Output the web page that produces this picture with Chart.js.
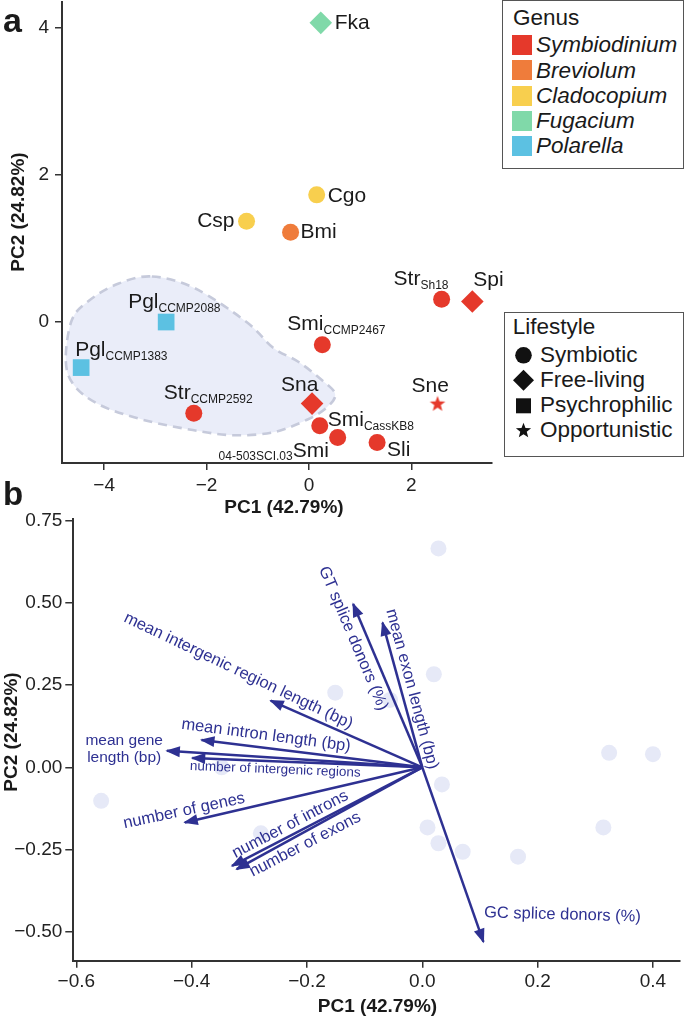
<!DOCTYPE html>
<html><head><meta charset="utf-8">
<script src="https://cdn.jsdelivr.net/npm/chart.js@4.4.1/dist/chart.umd.min.js"></script>
<style>
body{margin:0;background:#fff;width:685px;height:1017px;position:relative;overflow:hidden;font-family:"Liberation Sans",Arial,sans-serif;color:#1a1a1a}
canvas{position:absolute;left:0}
#c1{top:0}
#c2{top:480px}
.t{position:absolute;white-space:nowrap;line-height:1}
.ttl{position:absolute;white-space:nowrap;line-height:1;font-weight:bold;font-size:19px;transform:translate(-50%,-50%)}
.box{position:absolute;border:1.5px solid #555;box-sizing:border-box;background:#fff}
.lg{font-size:22.5px}
.it{font-style:italic}
.sw{position:absolute;width:20px;height:20px}
svg{position:absolute;left:0;top:0}
</style></head>
<body>
<canvas id="c1" width="685" height="520" style="width:685px;height:520px"></canvas>
<canvas id="c2" width="685" height="537" style="width:685px;height:537px"></canvas>

<div class="t" style="left:3px;top:2.7px;font-size:34px;font-weight:bold">a</div>
<div class="t" style="left:3px;top:477px;font-size:33px;font-weight:bold">b</div>

<div class="ttl" style="left:284px;top:506px">PC1 (42.79%)</div>
<div class="ttl" style="left:16.5px;top:212px;transform:translate(-50%,-50%) rotate(-90deg)">PC2 (24.82%)</div>
<div class="ttl" style="left:377.5px;top:1005px">PC1 (42.79%)</div>
<div class="ttl" style="left:9.5px;top:731.5px;transform:translate(-50%,-50%) rotate(-90deg)">PC2 (24.82%)</div>

<div class="box" style="left:502px;top:0px;width:182px;height:169px"></div>
<div class="box" style="left:504px;top:312px;width:180px;height:145px"></div>
<div id="legends"></div>
<svg id="lgsvg" width="685" height="1017"></svg>

<script>
// ================= DATA: panel a (PCA scores) =================
const samples   = ['Fka','Cgo','Csp','Bmi','Str_Sh18','Spi','Pgl_CCMP2088','Smi_CCMP2467','Pgl_CCMP1383','Str_CCMP2592','Sna','Sne','Smi_CassKB8','Smi_04-503SCI.03','Sli'];
const pc1       = [0.23, 0.15, -1.22, -0.36, 2.59, 3.19, -2.79, 0.26, -4.45, -2.25, 0.06, 2.51, 0.21, 0.56, 1.33];
const pc2       = [4.07, 1.73, 1.37, 1.22, 0.31, 0.28, 0.00, -0.31, -0.62, -1.24, -1.11, -1.11, -1.41, -1.57, -1.64];
const genus     = ['Fugacium','Cladocopium','Cladocopium','Breviolum','Symbiodinium','Symbiodinium','Polarella','Symbiodinium','Polarella','Symbiodinium','Symbiodinium','Symbiodinium','Symbiodinium','Symbiodinium','Symbiodinium'];
const lifestyle = ['Free-living','Symbiotic','Symbiotic','Symbiotic','Symbiotic','Free-living','Psychrophilic','Symbiotic','Psychrophilic','Symbiotic','Free-living','Opportunistic','Symbiotic','Symbiotic','Symbiotic'];
const labelMain = ['Fka','Cgo','Csp','Bmi','Str','Spi','Pgl','Smi','Pgl','Str','Sna','Sne','Smi','Smi','Sli'];
const labelSub  = ['','','','','Sh18','','CCMP2088','CCMP2467','CCMP1383','CCMP2592','','','CassKB8','04-503SCI.03',''];
const genusNames     = ['Symbiodinium','Breviolum','Cladocopium','Fugacium','Polarella'];
const lifestyleNames = ['Symbiotic','Free-living','Psychrophilic','Opportunistic'];
// outline of the shaded region
const hullPC1 = [-3.07,-2.23,-1.22,-0.70,-0.21,0.25,0.51,0.35,-0.04,-0.70,-1.48,-2.27,-3.24,-4.08,-4.59,-4.75,-4.63,-4.28,-3.73];
const hullPC2 = [0.62,0.46,0.00,-0.35,-0.54,-0.79,-0.98,-1.16,-1.33,-1.50,-1.54,-1.47,-1.33,-1.13,-0.86,-0.52,0.03,0.30,0.52];
const ticksAX = [-4,-2,0,2];
const ticksAY = [0,2,4];

// ================= DATA: panel b (biplot) =================
const scorePC1 = [0.028,0.020,-0.151,-0.056,0.324,0.400,0.034,0.009,0.028,0.070,0.166,0.314,-0.557,-0.280,-0.348];
const scorePC2 = [0.666,0.283,0.227,0.205,0.044,0.040,-0.052,-0.183,-0.231,-0.257,-0.272,-0.183,-0.102,-0.201,0.000];
const loadingNames = ['GT splice donors (%)','mean exon length (bp)','mean intergenic region length (bp)','mean intron length (bp)','mean gene length (bp)','number of intergenic regions','number of genes','number of introns','number of exons','GC splice donors (%)'];
const loadPC1 = [-0.120,-0.069,-0.263,-0.383,-0.443,-0.399,-0.412,-0.330,-0.322,0.106];
const loadPC2 = [0.497,0.440,0.203,0.083,0.050,0.028,-0.168,-0.300,-0.310,-0.531];
const ticksBX = [-0.6,-0.4,-0.2,0,0.2,0.4];
const ticksBY = [-0.5,-0.25,0,0.25,0.5,0.75];

// ================= STYLES =================
const FONT = '"Liberation Sans", Arial, sans-serif';
Chart.defaults.font.family = FONT;
Chart.defaults.color = '#222';
const genusColors = {Symbiodinium:'#e5392b', Breviolum:'#ef7c3b', Cladocopium:'#f8cf4e', Fugacium:'#80d9a9', Polarella:'#5cc1e2'};
const NAVY = '#2e3192';
const minus = s => s.replace('-', '\u2212');
const noPad = s => { s.paddingTop = 0; s.paddingBottom = 0; s.paddingLeft = 0; s.paddingRight = 0; };

function starPath(cx, cy, R, r) {
  const p = [];
  for (let k = 0; k < 10; k++) {
    const a = -Math.PI / 2 + k * Math.PI / 5;
    const rr = k % 2 ? r : R;
    p.push([cx + rr * Math.cos(a), cy + rr * Math.sin(a)]);
  }
  return p;
}
function starImage(color) {
  const c = document.createElement('canvas');
  c.width = 18; c.height = 18;
  const g = c.getContext('2d');
  g.fillStyle = color;
  g.beginPath();
  starPath(9, 9.5, 8.2, 3.4).forEach((q, i) => i ? g.lineTo(q[0], q[1]) : g.moveTo(q[0], q[1]));
  g.closePath(); g.fill();
  return c;
}
const styleFor = {
  'Symbiotic':     {style:'circle',  r:8.5},
  'Free-living':   {style:'rectRot', r:11.3},
  'Psychrophilic': {style:'rect',    r:11.8},
  'Opportunistic': {style:'star',    r:8}
};
// label placement (pixel offsets from the marker, baseline-left of main text)
const labelOffsets = [
  {dx:14,dy:6},{dx:11,dy:7},{dx:-12,dy:6,align:'right'},{dx:10,dy:6},{dx:-48,dy:-14},
  {dx:1,dy:-15},{dx:-38,dy:-14},{dx:-35,dy:-15},{dx:-6,dy:-12},{dx:-30,dy:-14},
  {dx:-31,dy:-13},{dx:-26,dy:-12},{dx:8,dy:0},{dx:-45,dy:20,subBefore:true},{dx:10,dy:13}
];
// label placement for loadings (centre in axis units, rotation in degrees)
const loadLabelStyle = [
  {x:-0.120,y:0.392,rot:67,size:16.5},
  {x:-0.018,y:0.238,rot:75,size:16.5},
  {x:-0.319,y:0.293,rot:25.4,size:16.5},
  {x:-0.271,y:0.097,rot:7.5,size:16.5},
  {x:-0.517,y:0.054,rot:0,size:15.5,lines:['mean gene','length (bp)'],lh:17},
  {x:-0.255,y:-0.007,rot:2.3,size:13.5},
  {x:-0.413,y:-0.133,rot:-12,size:16.5},
  {x:-0.229,y:-0.174,rot:-27.6,size:16.5},
  {x:-0.203,y:-0.235,rot:-27.4,size:16.5},
  {x:0.243,y:-0.449,rot:1.5,size:16.5}
];

// ================= PANEL A =================
const datasetsA = genusNames.map(g => {
  const idx = samples.map((s, i) => i).filter(i => genus[i] === g);
  return {
    label: g,
    data: idx.map(i => ({x: pc1[i], y: pc2[i]})),
    backgroundColor: genusColors[g],
    borderWidth: 0,
    pointStyle: idx.map(i => styleFor[lifestyle[i]].style === 'star' ? starImage(genusColors[g]) : styleFor[lifestyle[i]].style),
    pointRadius: idx.map(i => styleFor[lifestyle[i]].r),
    pointHoverRadius: idx.map(i => styleFor[lifestyle[i]].r)
  };
});

const hullPlugin = {
  id: 'hull',
  beforeDatasetsDraw(chart) {
    const {ctx, scales: {x, y}} = chart;
    const P = hullPC1.map((v, i) => [x.getPixelForValue(v), y.getPixelForValue(hullPC2[i])]);
    const n = P.length;
    ctx.save();
    ctx.beginPath();
    ctx.moveTo(P[0][0], P[0][1]);
    for (let i = 0; i < n; i++) {
      const p0 = P[(i - 1 + n) % n], p1 = P[i], p2 = P[(i + 1) % n], p3 = P[(i + 2) % n];
      ctx.bezierCurveTo(p1[0] + (p2[0] - p0[0]) / 6, p1[1] + (p2[1] - p0[1]) / 6,
                        p2[0] - (p3[0] - p1[0]) / 6, p2[1] - (p3[1] - p1[1]) / 6, p2[0], p2[1]);
    }
    ctx.closePath();
    ctx.fillStyle = '#eaedf9';
    ctx.fill();
    ctx.setLineDash([9, 6]);
    ctx.lineWidth = 2.6;
    ctx.strokeStyle = '#c6cadb';
    ctx.stroke();
    ctx.restore();
  }
};

const labelPluginA = {
  id: 'labelsA',
  afterDatasetsDraw(chart) {
    const {ctx, scales: {x, y}} = chart;
    ctx.save();
    ctx.fillStyle = '#1a1a1a';
    ctx.textBaseline = 'alphabetic';
    samples.forEach((s, i) => {
      const o = labelOffsets[i];
      const px = x.getPixelForValue(pc1[i]) + o.dx;
      const py = y.getPixelForValue(pc2[i]) + o.dy;
      ctx.font = '21px ' + FONT;
      const w = ctx.measureText(labelMain[i]).width;
      if (o.align === 'right') {
        ctx.textAlign = 'right';
        ctx.fillText(labelMain[i], px, py);
      } else {
        ctx.textAlign = 'left';
        ctx.fillText(labelMain[i], px, py);
        if (labelSub[i]) {
          ctx.font = '12px ' + FONT;
          if (o.subBefore) {
            ctx.textAlign = 'right';
            ctx.fillText(labelSub[i], px, py + 3);
          } else {
            ctx.fillText(labelSub[i], px + w, py + 4);
          }
        }
      }
    });
    ctx.restore();
  }
};

new Chart(document.getElementById('c1'), {
  type: 'scatter',
  data: {datasets: datasetsA},
  options: {
    responsive: false, animation: false, devicePixelRatio: 1, events: [],
    layout: {autoPadding: false, padding: {left: 0, top: 2, right: 193, bottom: 0}},
    plugins: {legend: {display: false}, tooltip: {enabled: false}},
    scales: {
      x: {
        type: 'linear', min: -4.824, max: 3.574,
        afterFit: s => { s.height = 57; noPad(s); },
        afterBuildTicks: s => { s.ticks = ticksAX.map(v => ({value: v})); },
        ticks: {font: {size: 19}, color: '#222', padding: 4, callback: v => minus(String(v))},
        grid: {drawOnChartArea: false, drawTicks: true, tickLength: 7, color: '#333', lineWidth: 1.5},
        border: {color: '#333', width: 2}
      },
      y: {
        type: 'linear', min: -1.918, max: 4.354,
        afterFit: s => { s.width = 62; noPad(s); },
        afterBuildTicks: s => { s.ticks = ticksAY.map(v => ({value: v})); },
        ticks: {font: {size: 19}, color: '#222', padding: 6, callback: v => minus(String(v))},
        grid: {drawOnChartArea: false, drawTicks: true, tickLength: 7, color: '#333', lineWidth: 1.5},
        border: {color: '#333', width: 2}
      }
    }
  },
  plugins: [hullPlugin, labelPluginA]
});

// ================= PANEL B =================
const datasetsB = [{
  label: 'scores',
  data: scorePC1.map((v, i) => ({x: v, y: scorePC2[i]})),
  backgroundColor: '#e6e9f7',
  borderWidth: 0,
  pointRadius: 8,
  order: 2
}].concat(loadingNames.map((n, i) => ({
  label: n,
  data: [{x: 0, y: 0}, {x: loadPC1[i], y: loadPC2[i]}],
  showLine: true,
  borderColor: NAVY,
  borderWidth: 2.5,
  borderCapStyle: 'butt',
  pointRadius: 0,
  order: 1
})));

const arrowPlugin = {
  id: 'arrows',
  afterDatasetsDraw(chart) {
    const {ctx, scales: {x, y}} = chart;
    ctx.save();
    ctx.fillStyle = NAVY;
    const ox = x.getPixelForValue(0), oy = y.getPixelForValue(0);
    loadingNames.forEach((n, i) => {
      const tx = x.getPixelForValue(loadPC1[i]), ty = y.getPixelForValue(loadPC2[i]);
      const d = Math.hypot(tx - ox, ty - oy), ux = (tx - ox) / d, uy = (ty - oy) / d;
      const L = 13, W = 5.5;
      const bx = tx - L * ux, by = ty - L * uy;
      ctx.beginPath();
      ctx.moveTo(tx + ux * 1.5, ty + uy * 1.5);
      ctx.lineTo(bx - W * uy, by + W * ux);
      ctx.lineTo(bx + W * uy, by - W * ux);
      ctx.closePath();
      ctx.fill();
    });
    ctx.fillStyle = NAVY;
    ctx.textAlign = 'center';
    ctx.textBaseline = 'middle';
    loadingNames.forEach((n, i) => {
      const st = loadLabelStyle[i];
      const cx = x.getPixelForValue(st.x), cy = y.getPixelForValue(st.y);
      ctx.save();
      ctx.translate(cx, cy);
      ctx.rotate(st.rot * Math.PI / 180);
      ctx.font = st.size + 'px ' + FONT;
      if (st.lines) {
        st.lines.forEach((ln, k) => ctx.fillText(ln, 0, (k - (st.lines.length - 1) / 2) * st.lh));
      } else {
        ctx.fillText(n, 0, 0);
      }
      ctx.restore();
    });
    ctx.restore();
  }
};

new Chart(document.getElementById('c2'), {
  type: 'scatter',
  data: {datasets: datasetsB},
  options: {
    responsive: false, animation: false, devicePixelRatio: 1, events: [],
    layout: {autoPadding: false, padding: {left: 0, top: 39.3, right: 5, bottom: 0}},
    plugins: {legend: {display: false}, tooltip: {enabled: false}},
    scales: {
      x: {
        type: 'linear', min: -0.6053, max: 0.4469,
        afterFit: s => { s.height = 56.3; noPad(s); },
        afterBuildTicks: s => { s.ticks = ticksBX.map(v => ({value: v})); },
        ticks: {font: {size: 19}, color: '#222', padding: 3, callback: v => minus(v.toFixed(1))},
        grid: {drawOnChartArea: false, drawTicks: true, tickLength: 7, color: '#333', lineWidth: 1.5},
        border: {color: '#333', width: 2}
      },
      y: {
        type: 'linear', min: -0.5884, max: 0.7545,
        afterFit: s => { s.width = 73.3; noPad(s); },
        afterBuildTicks: s => { s.ticks = ticksBY.map(v => ({value: v})); },
        ticks: {font: {size: 19}, color: '#222', padding: 3, callback: v => minus(v.toFixed(2))},
        grid: {drawOnChartArea: false, drawTicks: true, tickLength: 8, color: '#333', lineWidth: 1.5},
        border: {color: '#333', width: 2}
      }
    }
  },
  plugins: [arrowPlugin]
});

// ================= LEGENDS (HTML + SVG) =================
(function () {
  const L = document.getElementById('legends');
  const svg = document.getElementById('lgsvg');
  const NS = 'http://www.w3.org/2000/svg';
  const FS = 22.5;
  const addText = (txt, left, baseline, cls) => {
    const d = document.createElement('div');
    d.className = 't lg ' + (cls || '');
    d.style.left = left + 'px';
    d.style.top = (baseline - 0.8465 * FS) + 'px';
    d.textContent = txt;
    L.appendChild(d);
  };
  addText('Genus', 513, 26.5);
  genusNames.forEach((g, k) => {
    const base = 53.3 + k * 25.3;
    const s = document.createElement('div');
    s.className = 'sw';
    s.style.left = '512px';
    s.style.top = (base - 18.3) + 'px';
    s.style.background = genusColors[g];
    L.appendChild(s);
    addText(g, 536, base, 'it');
  });
  addText('Lifestyle', 512.7, 335);
  lifestyleNames.forEach((ls, k) => {
    const base = 363.3 + k * 25;
    addText(ls, 540, base);
    const cx = 523.5, cy = base - 8;
    let el;
    if (ls === 'Symbiotic') {
      el = document.createElementNS(NS, 'circle');
      el.setAttribute('cx', cx); el.setAttribute('cy', cy); el.setAttribute('r', 8.3);
    } else if (ls === 'Free-living') {
      el = document.createElementNS(NS, 'polygon');
      el.setAttribute('points', `${cx - 10.5},${cy} ${cx},${cy - 10.5} ${cx + 10.5},${cy} ${cx},${cy + 10.5}`);
    } else if (ls === 'Psychrophilic') {
      el = document.createElementNS(NS, 'rect');
      el.setAttribute('x', cx - 7.5); el.setAttribute('y', cy - 7); el.setAttribute('width', 15); el.setAttribute('height', 15);
    } else {
      el = document.createElementNS(NS, 'polygon');
      el.setAttribute('points', starPath(cx, cy + 0.5, 8, 3.4).map(q => q.join(',')).join(' '));
    }
    el.setAttribute('fill', '#111');
    svg.appendChild(el);
  });
})();
</script>
</body></html>
